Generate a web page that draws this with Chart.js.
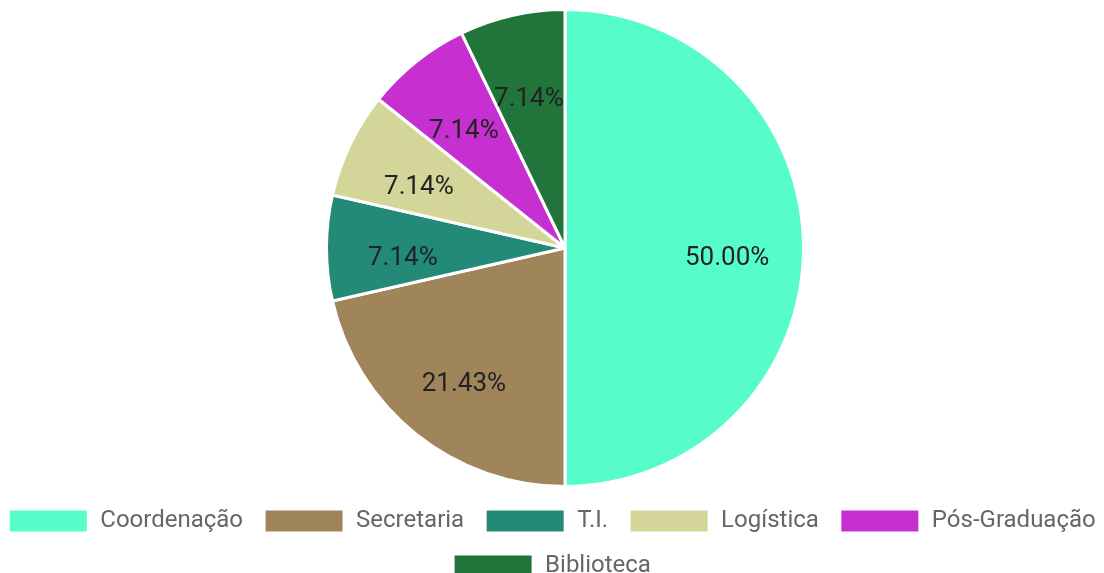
<!DOCTYPE html>
<html>
<head>
<meta charset="utf-8">
<script src="https://cdn.jsdelivr.net/npm/chart.js@4"></script>
<style>
  html, body { margin: 0; padding: 0; background: #fff; overflow: hidden; }
  #wrap { width: 1150px; height: 588px; margin-left: -23px; }
</style>
</head>
<body>
<div id="wrap"><canvas id="chart"></canvas></div>
<script>
const labels = ['Coordenação', 'Secretaria', 'T.I.', 'Logística', 'Pós-Graduação', 'Biblioteca'];
const counts = [7, 3, 1, 1, 1, 1];
const colors = ['#56fdcb', '#a0855b', '#248a78', '#d3d599', '#c62fd0', '#21753b'];

// pie sits a bit right of the legend centre in the original
const shiftPie = {
  id: 'shiftPie',
  afterLayout(chart) {
    chart.chartArea.left += 26;
  }
};

// draws the percentage text inside each slice
const sliceLabels = {
  id: 'sliceLabels',
  afterDatasetsDraw(chart) {
    const ctx = chart.ctx;
    const meta = chart.getDatasetMeta(0);
    const total = counts.reduce((a, b) => a + b, 0);
    ctx.save();
    ctx.font = '26px Roboto, "Liberation Sans", sans-serif';
    ctx.fillStyle = '#222';
    ctx.textAlign = 'center';
    ctx.textBaseline = 'middle';
    meta.data.forEach((arc, i) => {
      const p = arc.getProps(['x', 'y', 'startAngle', 'endAngle', 'outerRadius'], true);
      const mid = (p.startAngle + p.endAngle) / 2;
      const r = p.outerRadius * 0.68;
      const txt = (counts[i] / total * 100).toFixed(2) + '%';
      ctx.fillText(txt, p.x + Math.cos(mid) * r, p.y + Math.sin(mid) * r + 10);
    });
    ctx.restore();
  }
};

new Chart(document.getElementById('chart'), {
  type: 'pie',
  data: {
    labels: labels,
    datasets: [{ data: counts, backgroundColor: colors, borderColor: '#fff', borderWidth: 3 }]
  },
  options: {
    responsive: true,
    maintainAspectRatio: false,
    animation: false,
    layout: { padding: { top: 8, bottom: 0 } },
    plugins: {
      legend: {
        position: 'bottom',
        labels: {
          boxWidth: 80,
          boxHeight: 24,
          padding: 21,
          color: '#666',
          font: { size: 24, family: 'Roboto, "Liberation Sans", sans-serif' }
        }
      },
      tooltip: { enabled: false }
    }
  },
  plugins: [shiftPie, sliceLabels]
});
</script>
</body>
</html>
